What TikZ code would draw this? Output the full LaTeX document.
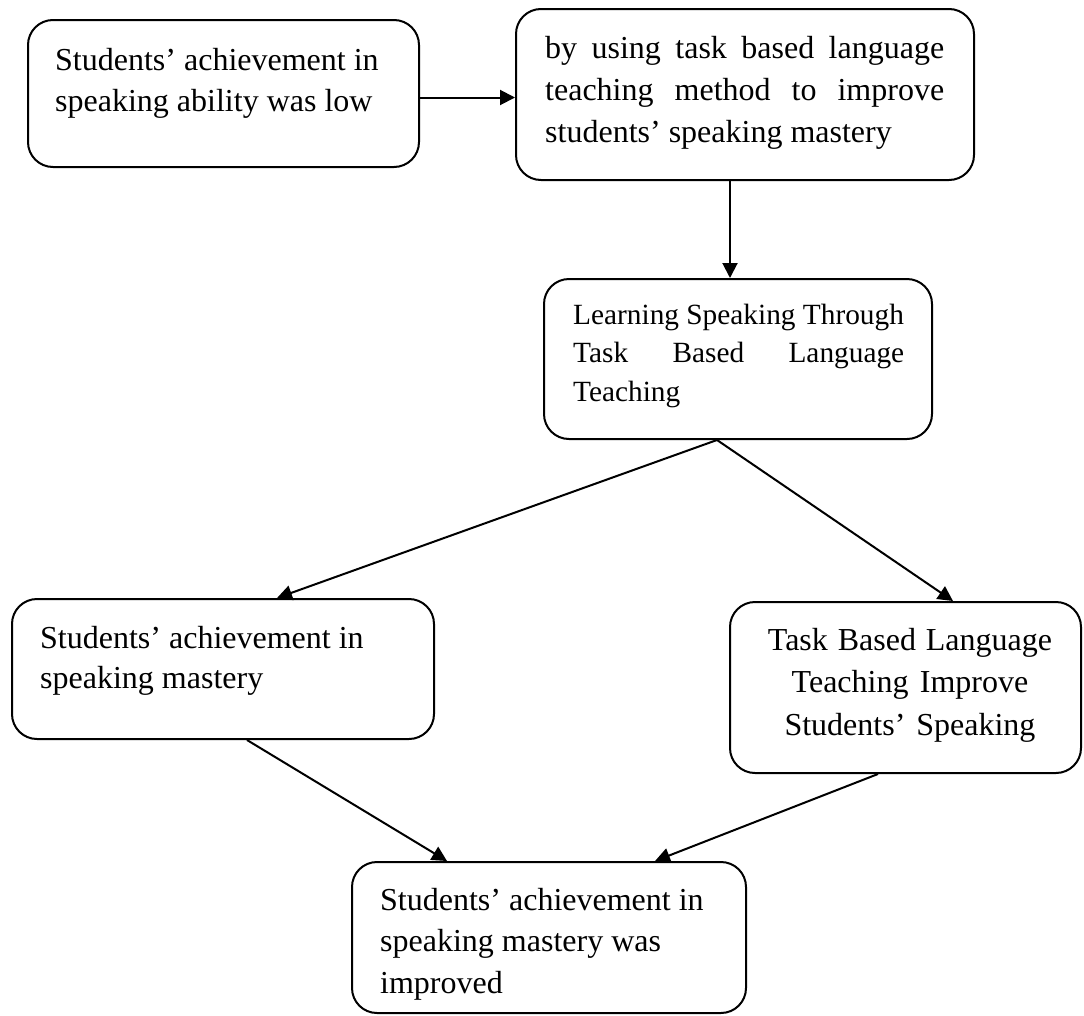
\documentclass[tikz,border=0pt]{standalone}
\usepackage{fontspec}
\setmainfont{Liberation Serif}
\usetikzlibrary{arrows.meta}
\begin{document}
\begin{tikzpicture}[x=1pt,y=-1pt,
  box/.style={draw=black, line width=2pt, rounded corners=25pt, inner sep=0pt},
  txt/.style={inner sep=0pt, anchor=base west, font=\fontsize{32}{41}\selectfont,
    execute at begin node={\spaceskip=0pt\relax\xspaceskip=0pt\relax\parindent=0pt\relax}},
  conn/.style={line width=2pt, -{Triangle[length=15pt,width=15pt]}}]
\useasboundingbox (0,0) rectangle (1084,1015);
% boxes
\node[box, minimum width=391pt, minimum height=147pt] (b1) at (223.5,93.5) {};
\node[box, minimum width=458pt, minimum height=171pt] (b2) at (745,94.5) {};
\node[box, minimum width=388pt, minimum height=160pt] (b3) at (738,359) {};
\node[box, minimum width=422pt, minimum height=140pt] (b4) at (223,669) {};
\node[box, minimum width=351pt, minimum height=171pt] (b5) at (905.5,687.5) {};
\node[box, minimum width=394pt, minimum height=151pt] (b6) at (549,937.5) {};
% texts
\node[txt, text width=360pt] (t1) at (55,70) {Students’ achievement in\\speaking ability was low};
\node[txt, text width=410pt, font=\fontsize{32}{42}\selectfont] (t2) at (545,58)
  {\makebox[399pt][s]{by using task based language}\\\makebox[399pt][s]{teaching method to improve}\\students’ speaking mastery};
\node[txt, text width=350pt, font=\fontsize{29.33}{38.7}\selectfont] (t3) at (573,324)
  {Learning Speaking Through\\\makebox[331pt][s]{Task Based Language}\\Teaching};
\node[txt, text width=380pt, font=\fontsize{32}{40}\selectfont] (t4) at (40,648) {Students’ achievement in\\speaking mastery};
\node[txt, anchor=base, align=center, text width=345pt, font=\fontsize{32}{42.5}\selectfont] (t5) at (910,650)
  {Task Based Language\\Teaching Improve\\Students’ Speaking};
\node[txt, text width=360pt, font=\fontsize{32}{41.5}\selectfont] (t6) at (380,910) {Students’ achievement in\\speaking mastery was\\improved};
% connectors
\draw[conn] ([yshift=-4pt]b1.east) -- ([yshift=-4pt]b1.east -| b2.west);
\draw[conn] ([xshift=-15pt]b2.south) -- ([xshift=-15pt]b2.south |- b3.north);
\draw[conn] ([xshift=-21pt]b3.south) -- ([xshift=54pt]b4.north);
\draw[conn] ([xshift=-21pt]b3.south) -- ([xshift=47.5pt]b5.north);
\draw[conn] ([xshift=24pt]b4.south) -- ([xshift=-102pt]b6.north);
\draw[conn] ([xshift=-27.5pt]b5.south) -- ([xshift=106pt]b6.north);
\end{tikzpicture}
\end{document}
